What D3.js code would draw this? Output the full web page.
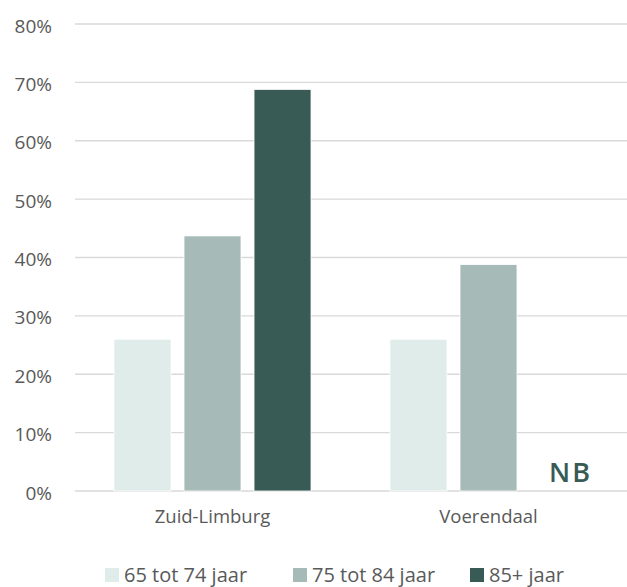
<!DOCTYPE html>
<html><head><meta charset="utf-8">
<script src="https://cdn.jsdelivr.net/npm/d3@7"></script>
<style>body{margin:0;background:#fff;} text{font-family:"Open Sans",sans-serif;}</style>
</head><body>
<svg id="c" width="627" height="587"></svg>
<script>
const categories = ["Zuid-Limburg", "Voerendaal"];
const seriesNames = ["65 tot 74 jaar", "75 tot 84 jaar", "85+ jaar"];
const values65 = [26.0, 26.0];
const values75 = [43.7, 38.8];
const values85 = [68.8, null];
const tickValues = [0, 10, 20, 30, 40, 50, 60, 70, 80];
const colors = ["#dfece9", "#a6bab7", "#385b55"];
const naLabel = "NB";

const series = [values65, values75, values85];
const svg = d3.select("#c");
const y = d3.scaleLinear().domain([0, 80]).range([491, 24]);
const x0 = d3.scaleBand().domain(categories).range([74.5, 626.5]).paddingInner(0).paddingOuter(0);
const x1 = d3.scaleBand().domain(seriesNames).range([0, x0.bandwidth()]).paddingInner(0.186).paddingOuter(0.564);

// grid
svg.append("g").selectAll("line").data(tickValues).join("line")
  .attr("x1", 75).attr("x2", 627)
  .attr("y1", d => y(d)).attr("y2", d => y(d))
  .attr("stroke", "#d9d9d9").attr("stroke-width", 1.3);

// y axis labels
const yAxis = d3.axisLeft(y).tickValues(tickValues).tickFormat(d => d + "%").tickSize(0).tickPadding(0);
const gy = svg.append("g").attr("transform", "translate(52,2)").call(yAxis);
gy.select(".domain").remove();
gy.selectAll("text").attr("font-size", 19).attr("fill", "#595959").attr("font-family", "Open Sans, sans-serif");

// bars
categories.forEach((cat, ci) => {
  series.forEach((vals, si) => {
    const v = vals[ci];
    if (v == null) return;
    svg.append("rect")
      .attr("x", x0(cat) + x1(seriesNames[si]))
      .attr("y", y(v))
      .attr("width", x1.bandwidth())
      .attr("height", y(0) - y(v))
      .attr("fill", colors[si])
      .attr("stroke", "#ffffff").attr("stroke-width", 0.8);
  });
  series.forEach((vals, si) => {
    if (vals[ci] == null) {
      svg.append("text")
        .attr("x", x0(cat) + x1(seriesNames[si]) + 19)
        .attr("y", 482)
        .attr("font-size", 27).attr("font-weight", 600)
        .attr("letter-spacing", 2)
        .attr("fill", colors[2])
        .text(naLabel);
    }
  });
});

// x axis labels
const xAxis = d3.axisBottom(x0).tickSize(0).tickPadding(0);
const gx = svg.append("g").attr("transform", "translate(0,510)").call(xAxis);
gx.select(".domain").remove();
gx.selectAll("text").attr("font-size", 18.5).attr("fill", "#595959").attr("font-family", "Open Sans, sans-serif");

// legend
const legX = [105, 293, 470];
const leg = svg.append("g");
seriesNames.forEach((n, i) => {
  leg.append("rect").attr("x", legX[i]).attr("y", 568).attr("width", 14).attr("height", 14).attr("fill", colors[i]);
  leg.append("text").attr("x", legX[i] + 19).attr("y", 582).attr("font-size", 20).attr("fill", "#595959").text(n);
});
</script>
</body></html>
